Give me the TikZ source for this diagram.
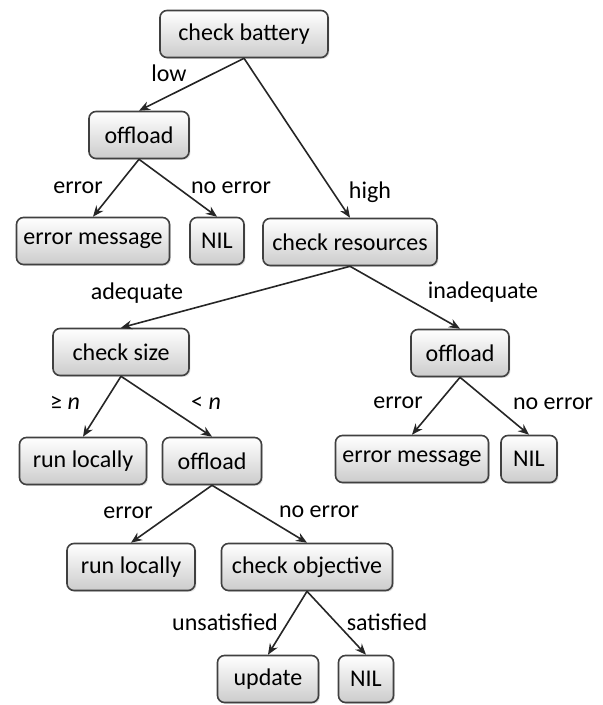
\documentclass[tikz,border=0pt]{standalone}
\usepackage{fontspec}
\setmainfont{Carlito}
\usepackage{tikz}
\usetikzlibrary{arrows.meta,shadows}

\tikzset{
	box/.style={draw=black!75, line width=0.8pt, rounded corners=3.5pt, top color=white, bottom color=black!20, minimum height=23.5pt, inner sep=0pt, drop shadow={shadow xshift=0.7pt, shadow yshift=-0.7pt, opacity=0.25}},
	lbl/.style={inner sep=0pt},
	arr/.style={draw=black!85, line width=0.8pt, -{Stealth[length=5.5pt,width=4.5pt]}}
}

\begin{document}
\begin{tikzpicture}[x=0.5pt, y=-0.5pt, font=\fontsize{12}{14}\selectfont]
	\useasboundingbox (0,0) rectangle (602,705);
	% decision boxes
	\node[box, minimum width=84pt] (battery) at (244,34) {check battery};
	\node[box, minimum width=50pt] (offloadA) at (139,135) {offload};
	\node[box, minimum width=76.5pt] (errorA) at (93,241) {error message};
	\node[box, minimum width=27pt] (nilA) at (217,241) {NIL};
	\node[box, minimum width=87pt] (resources) at (350,242) {check resources};
	\node[box, minimum width=68pt] (size) at (121,352) {check size};
	\node[box, minimum width=49pt] (offloadB) at (460,353) {offload};
	\node[box, minimum width=63.5pt] (runA) at (83,461) {run locally};
	\node[box, minimum width=49.5pt] (offloadC) at (212,461) {offload};
	\node[box, minimum width=76.5pt] (errorB) at (412,459) {error message};
	\node[box, minimum width=28pt] (nilB) at (529,459) {NIL};
	\node[box, minimum width=64pt] (runB) at (131,567) {run locally};
	\node[box, minimum width=85.5pt] (objective) at (307,567) {check objective};
	\node[box, minimum width=50.5pt] (update) at (268,679) {update};
	\node[box, minimum width=27.5pt] (nilC) at (366,679) {NIL};
	% connectors
	\draw[arr] (battery.south) -- (offloadA.north);
	\draw[arr] (battery.south) -- (resources.north);
	\draw[arr] (offloadA.south) -- (errorA.north);
	\draw[arr] (offloadA.south) -- (nilA.north);
	\draw[arr] (resources.south) -- (size.north);
	\draw[arr] (resources.south) -- (offloadB.north);
	\draw[arr] (size.south) -- (runA.north);
	\draw[arr] (size.south) -- (offloadC.north);
	\draw[arr] (offloadB.south) -- (errorB.north);
	\draw[arr] (offloadB.south) -- (nilB.north);
	\draw[arr] (offloadC.south) -- (runB.north);
	\draw[arr] (offloadC.south) -- (objective.north);
	\draw[arr] (objective.south) -- (update.north);
	\draw[arr] (objective.south) -- (nilC.north);
	% edge labels
	\node[lbl] (lowlbl) at (169,73) {low};
	\node[lbl] (highlbl) at (370,192) {high};
	\node[lbl] (errlblA) at (78,188) {error};
	\node[lbl] (okerrlblA) at (231,188) {no error};
	\node[lbl] (adequatelbl) at (137,293) {adequate};
	\node[lbl] (inadequatelbl) at (483,292) {inadequate};
	\node[lbl] (geqlbl) at (65,403) {≥ \textit{n}};
	\node[lbl] (ltlbl) at (206,403) {< \textit{n}};
	\node[lbl] (errlblB) at (398,403) {error};
	\node[lbl] (okerrlblB) at (553,404) {no error};
	\node[lbl] (errlblC) at (128,513) {error};
	\node[lbl] (okerrlblC) at (319,512) {no error};
	\node[lbl] (unsatlbl) at (225,622) {unsatisfied};
	\node[lbl] (satlbl) at (387,622) {satisfied};
\end{tikzpicture}
\end{document}
